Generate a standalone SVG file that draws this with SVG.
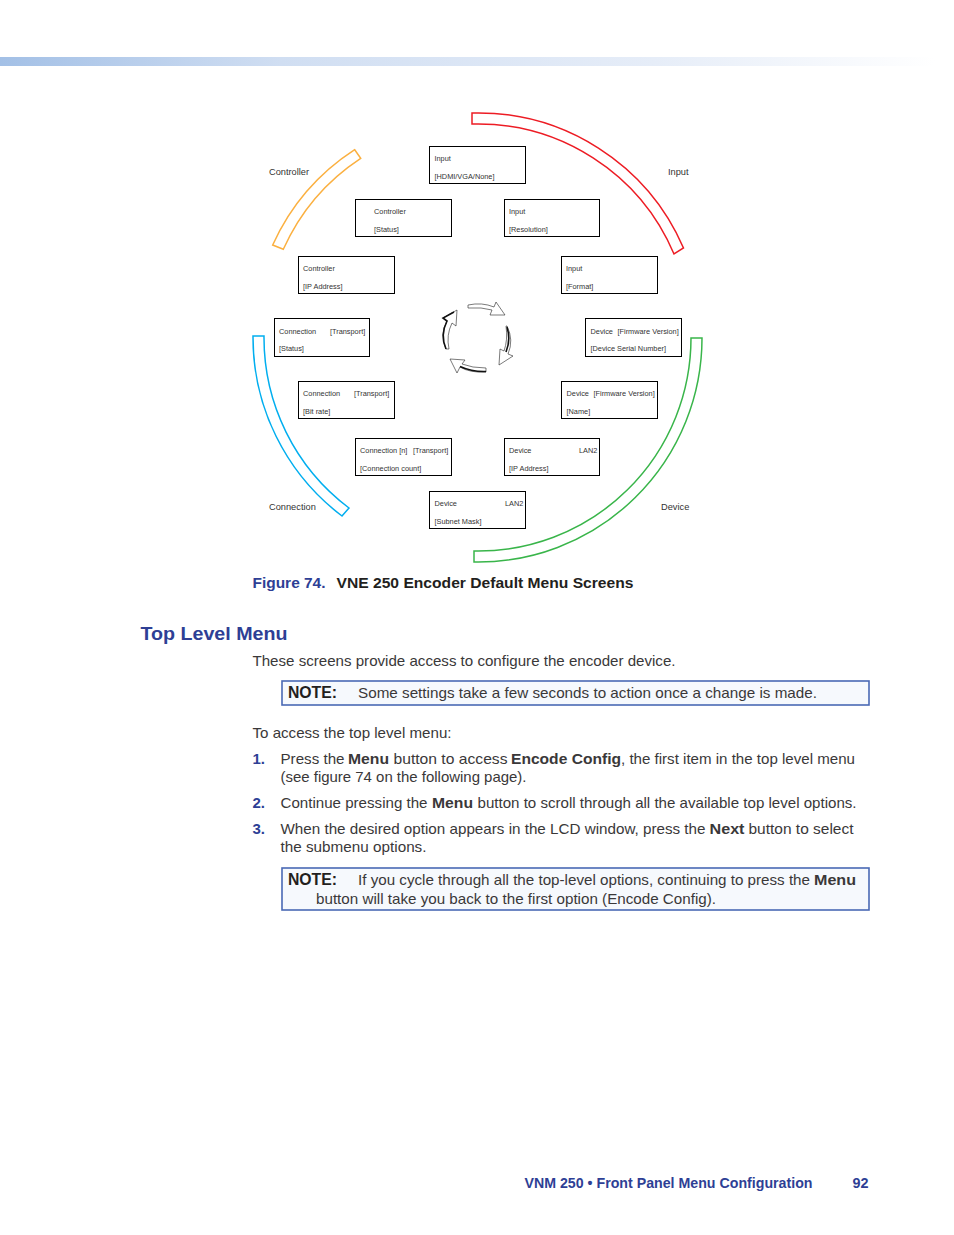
<svg xmlns="http://www.w3.org/2000/svg" width="954" height="1235" viewBox="0 0 954 1235">
<style>
text{font-family:"Liberation Sans",Arial,sans-serif;fill:#231f20}
.s{font-size:7.350px;fill:#333}
.l{font-size:9.250px;fill:#333}
.b{font-size:15px;fill:#3a3839}
.h{font-weight:bold}
.blue{fill:#2e3f95}
.box{fill:#fff;stroke:#000;stroke-width:1}
.arc{fill:#fff;stroke-width:1.500}
.note{fill:#f6f9fd;stroke:#4a69b5;stroke-width:1.600}
.ar{fill:#fff;stroke:#222;stroke-width:.6}
.ak{fill:none;stroke:#111;stroke-width:1.600}
</style>
<defs><linearGradient id="g"><stop offset="0" stop-color="#a3c0e6"/><stop offset=".3" stop-color="#d0def2"/><stop offset=".7" stop-color="#e6edf8"/><stop offset="1" stop-color="#fff"/></linearGradient></defs>
<rect x="0" y="57" width="935" height="9" fill="url(#g)"/>
<g id="connectors">
<path class="arc" stroke="#ed1c24" d="M472 113A224 224 0 0 1 683.500 248L674 254A213 213 0 0 0 472 124Z"/>
<path class="arc" stroke="#39b54a" d="M702 338A224 224 0 0 1 474 562V551A213 213 0 0 0 691 338Z"/>
<path class="arc" stroke="#00aeef" d="M253 336H264A213 213 0 0 0 349 508L342 516A224 224 0 0 1 253 336Z"/>
<path class="arc" stroke="#fbb040" d="M354.700 149.700L360.700 158.300A213.500 213.500 0 0 0 283.300 249.300L272.700 245A224 224 0 0 1 354.700 149.700Z"/>
</g>
<g id="cycle">
<path class="ar" d="M468 305Q482 302 494 307L496 302L505 315L490 315L492 310Q482 307 468 308Z"/>
<path class="ar" d="M507 326Q514 340 508 354L513 356L499 365L500 349L504 351Q508 340 506 326Z"/>
<path class="ak" d="M507 327Q511 340 506 352"/>
<path class="ar" d="M486 372Q470 373 460 367L457 373L450 359L465 360L462 364Q472 368 486 368Z"/>
<path class="ak" d="M486 371.500Q472 372 460 366.500"/>
<path class="ar" d="M446 349Q439 335 447 321L443 318L457 310L456 326L452 323Q446 335 449 349Z"/>
<path class="ak" d="M446 349Q440 335 447 321L443 318L454 312"/>
</g>
<g id="n1"><rect class="box" x="429.500" y="146.500" width="96" height="37"/><text class="s" x="434.500" y="161">Input</text><text class="s" x="434.500" y="179">[HDMI/VGA/None]</text></g>
<g id="n2"><rect class="box" x="355.500" y="199.500" width="96" height="37"/><text class="s" x="374" y="214">Controller</text><text class="s" x="374" y="232">[Status]</text></g>
<g id="n3"><rect class="box" x="504.500" y="199.500" width="95" height="37"/><text class="s" x="509" y="214">Input</text><text class="s" x="509" y="232">[Resolution]</text></g>
<g id="n4"><rect class="box" x="298.500" y="256.500" width="96" height="37"/><text class="s" x="303" y="271">Controller</text><text class="s" x="303" y="289">[IP Address]</text></g>
<g id="n5"><rect class="box" x="561.500" y="256.500" width="96" height="37"/><text class="s" x="566" y="271">Input</text><text class="s" x="566" y="289">[Format]</text></g>
<g id="n6"><rect class="box" x="274.500" y="318.500" width="95" height="38"/><text class="s" x="279" y="334">Connection</text><text class="s" x="330" y="334">[Transport]</text><text class="s" x="279" y="351">[Status]</text></g>
<g id="n7"><rect class="box" x="585.500" y="318.500" width="96" height="38"/><text class="s" x="590.500" y="334">Device</text><text class="s" x="617.500" y="334">[Firmware Version]</text><text class="s" x="590.500" y="351">[Device Serial Number]</text></g>
<g id="n8"><rect class="box" x="298.500" y="381.500" width="96" height="37"/><text class="s" x="303" y="396">Connection</text><text class="s" x="354" y="396">[Transport]</text><text class="s" x="303" y="414">[Bit rate]</text></g>
<g id="n9"><rect class="box" x="561.500" y="381.500" width="96" height="37"/><text class="s" x="566.500" y="396">Device</text><text class="s" x="593.500" y="396">[Firmware Version]</text><text class="s" x="566.500" y="414">[Name]</text></g>
<g id="n10"><rect class="box" x="355.500" y="438.500" width="96" height="37"/><text class="s" x="360" y="453">Connection [n]</text><text class="s" x="413" y="453">[Transport]</text><text class="s" x="360" y="471">[Connection count]</text></g>
<g id="n11"><rect class="box" x="504.500" y="438.500" width="95" height="37"/><text class="s" x="509" y="453">Device</text><text class="s" x="579" y="453">LAN2</text><text class="s" x="509" y="471">[IP Address]</text></g>
<g id="n12"><rect class="box" x="429.500" y="491.500" width="96" height="37"/><text class="s" x="434.500" y="506">Device</text><text class="s" x="505" y="506">LAN2</text><text class="s" x="434.500" y="524">[Subnet Mask]</text></g>
<text class="l" x="269" y="175">Controller</text>
<text class="l" x="668" y="175">Input</text>
<text class="l" x="269" y="510">Connection</text>
<text class="l" x="661" y="510">Device</text>
<text class="h blue" x="252.500" y="588" font-size="15" textLength="73" lengthAdjust="spacingAndGlyphs">Figure 74.</text>
<text class="h" x="336.500" y="588" font-size="15" textLength="297" lengthAdjust="spacingAndGlyphs">VNE 250 Encoder Default Menu Screens</text>
<text class="h blue" x="140.500" y="640" font-size="19" textLength="147" lengthAdjust="spacingAndGlyphs">Top Level Menu</text>
<text class="b" x="252.500" y="666" textLength="423" lengthAdjust="spacingAndGlyphs">These screens provide access to configure the encoder device.</text>
<rect class="note" x="282" y="681" width="587" height="24"/>
<text class="h" x="288" y="698" font-size="16" textLength="49" lengthAdjust="spacingAndGlyphs">NOTE:</text>
<text class="b" x="358" y="698" textLength="459" lengthAdjust="spacingAndGlyphs">Some settings take a few seconds to action once a change is made.</text>
<text class="b" x="252.500" y="738" textLength="199" lengthAdjust="spacingAndGlyphs">To access the top level menu:</text>
<text class="h blue" x="252.500" y="764" font-size="15">1.</text>
<text class="b" x="280.500" y="764" textLength="64" lengthAdjust="spacingAndGlyphs">Press the</text>
<text class="b h" x="348" y="764" textLength="41" lengthAdjust="spacingAndGlyphs">Menu</text>
<text class="b" x="393.500" y="764" textLength="114" lengthAdjust="spacingAndGlyphs">button to access</text>
<text class="b h" x="511" y="764" textLength="110" lengthAdjust="spacingAndGlyphs">Encode Config</text>
<text class="b" x="621" y="764" textLength="234" lengthAdjust="spacingAndGlyphs">, the first item in the top level menu</text>
<text class="b" x="280.500" y="782" textLength="246" lengthAdjust="spacingAndGlyphs">(see figure 74 on the following page).</text>
<text class="h blue" x="252.500" y="808" font-size="15">2.</text>
<text class="b" x="280.500" y="808" textLength="147" lengthAdjust="spacingAndGlyphs">Continue pressing the</text>
<text class="b h" x="432" y="808" textLength="41" lengthAdjust="spacingAndGlyphs">Menu</text>
<text class="b" x="477.500" y="808" textLength="379" lengthAdjust="spacingAndGlyphs">button to scroll through all the available top level options.</text>
<text class="h blue" x="252.500" y="834" font-size="15">3.</text>
<text class="b" x="280.500" y="834" textLength="425" lengthAdjust="spacingAndGlyphs">When the desired option appears in the LCD window, press the</text>
<text class="b h" x="709.500" y="834" textLength="35" lengthAdjust="spacingAndGlyphs">Next</text>
<text class="b" x="748.500" y="834" textLength="105" lengthAdjust="spacingAndGlyphs">button to select</text>
<text class="b" x="280.500" y="852" textLength="146" lengthAdjust="spacingAndGlyphs">the submenu options.</text>
<rect class="note" x="282" y="868" width="587" height="42"/>
<text class="h" x="288" y="885" font-size="16" textLength="49" lengthAdjust="spacingAndGlyphs">NOTE:</text>
<text class="b" x="358" y="885" textLength="452" lengthAdjust="spacingAndGlyphs">If you cycle through all the top-level options, continuing to press the</text>
<text class="b h" x="814" y="885" textLength="42" lengthAdjust="spacingAndGlyphs">Menu</text>
<text class="b" x="316" y="904" textLength="400" lengthAdjust="spacingAndGlyphs">button will take you back to the first option (Encode Config).</text>
<text class="h blue" x="524.500" y="1188" font-size="14.500" textLength="288" lengthAdjust="spacingAndGlyphs">VNM 250 • Front Panel Menu Configuration</text>
<text class="h blue" x="852.500" y="1188" font-size="14.500" textLength="16" lengthAdjust="spacingAndGlyphs">92</text>
</svg>
